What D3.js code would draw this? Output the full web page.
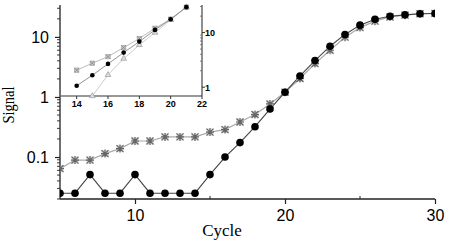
<!DOCTYPE html>
<html><head><meta charset="utf-8">
<script src="https://cdn.jsdelivr.net/npm/d3@7"></script>
<style>body{margin:0;background:#fff}svg{display:block}</style>
</head><body><svg id="c" width="450" height="243"></svg>
<script>
const cycles = [5,6,7,8,9,10,11,12,13,14,15,16,17,18,19,20,21,22,23,24,25,26,27,28,29,30];
const blackSeries = [0.025,0.025,0.051,0.025,0.025,0.051,0.025,0.025,0.025,0.025,0.051,0.1,0.174,0.32,0.63,1.2,2.24,4.04,7.0,11.0,15.7,19.7,22.1,23.3,24.3,24.6];
const graySeries = [0.064,0.089,0.089,0.114,0.138,0.185,0.185,0.216,0.216,0.216,0.26,0.286,0.383,0.51,0.765,1.2,2.03,3.6,6.0,9.9,14.3,18.3,21.5,23,24.3,24.6];
const xTicks = [10,20,30];
const xMinorTicks = [15,25];
const yTicks = [0.1,1,10];

const insetCycles = [14,15,16,17,18,19,20,21];
const insetCross = [2.05,2.75,3.63,5.31,7.77,12.0,17.6,29.2];
const insetDots = [1.06,1.66,2.67,4.3,6.84,11.2,17.6,29.2];
const insetTriCycles = [15,16,17,18,19,20,21];
const insetTri = [0.69,1.68,3.34,5.95,10.0,17.1,29.2];
const insetXTicks = [14,16,18,20,22];
const insetYTicks = [1,10];

const svg = d3.select('#c');
const x = d3.scaleLinear().domain([5,30]).range([60,435]);
const y = d3.scaleLog().domain([0.02,34]).range([199,5]);

svg.append('defs').append('clipPath').attr('id','clip')
  .append('rect').attr('x',60).attr('y',0).attr('width',375).attr('height',243);

// axes
const yAxis = d3.axisLeft(y).tickValues(yTicks).tickFormat(d=>d>=1?d3.format('d')(d):String(d)).tickSize(5).tickPadding(6);
const gy = svg.append('g').attr('transform','translate(60,0)').call(yAxis);
gy.select('.domain').attr('d','M0,5V199').attr('stroke','#222').attr('stroke-width',1.3);
gy.selectAll('text').attr('font-family','Liberation Sans, Arial, sans-serif').attr('font-size',16).attr('fill','#000');
gy.selectAll('line').attr('stroke','#222').attr('stroke-width',1.2);
const minorY = [];
[0.01,0.1,1,10].forEach(b=>{for(let k=2;k<=9;k++){const v=b*k; if(v>=0.02&&v<=34) minorY.push(v);}});
gy.selectAll('.minor').data(minorY).enter().append('line').attr('class','minor')
  .attr('x1',-3).attr('x2',0).attr('y1',d=>y(d)).attr('y2',d=>y(d)).attr('stroke','#222').attr('stroke-width',0.9);

const xAxis = d3.axisBottom(x).tickValues(xTicks).tickFormat(d3.format('d')).tickSize(5).tickPadding(6);
const gx = svg.append('g').attr('transform','translate(0,199)').call(xAxis);
gx.select('.domain').attr('d','M60,0H435').attr('stroke','#222').attr('stroke-width',1.3);
gx.selectAll('text').attr('font-family','Liberation Sans, Arial, sans-serif').attr('font-size',16).attr('fill','#000');
gx.selectAll('line').attr('stroke','#222').attr('stroke-width',1.2);
gx.selectAll('.minorx').data(xMinorTicks).enter().append('line')
  .attr('x1',d=>x(d)).attr('x2',d=>x(d)).attr('y1',-3).attr('y2',0).attr('stroke','#222').attr('stroke-width',1);

// labels
svg.append('text').attr('x',222).attr('y',236).attr('text-anchor','middle')
  .attr('font-family','Liberation Serif, Times New Roman, serif').attr('font-size',17).text('Cycle');
svg.append('text').attr('transform','translate(14,105) rotate(-90)').attr('text-anchor','middle')
  .attr('font-family','Liberation Serif, Times New Roman, serif').attr('font-size',16)
  .attr('textLength',37).attr('lengthAdjust','spacingAndGlyphs').text('Signal');

// main series
const plot = svg.append('g').attr('clip-path','url(#clip)');
const grayData = cycles.map((c,i)=>[c,graySeries[i]]);
const blackData = cycles.map((c,i)=>[c,blackSeries[i]]);
const line = d3.line().x(d=>x(d[0])).y(d=>y(d[1]));
plot.append('path').datum(grayData).attr('d',line).attr('fill','none').attr('stroke','#aaa').attr('stroke-width',1.2);
plot.append('path').datum(blackData).attr('d',line).attr('fill','none').attr('stroke','#444').attr('stroke-width',1.1);
const star = plot.selectAll('.star').data(grayData).enter().append('g')
  .attr('transform',d=>`translate(${x(d[0])},${y(d[1])})`);
star.append('rect').attr('x',-3.5).attr('y',-3.5).attr('width',7).attr('height',7).attr('fill','#bbb').attr('opacity',0.6);
star.append('path').attr('d','M-4,0H4M0,-4V4M-3.5,-3.5L3.5,3.5M-3.5,3.5L3.5,-3.5').attr('stroke','#666').attr('stroke-width',1.2);
plot.selectAll('.dot').data(blackData).enter().append('circle')
  .attr('cx',d=>x(d[0])).attr('cy',d=>y(d[1])).attr('r',3.8).attr('fill','#000');

// inset
const ix = d3.scaleLinear().domain([13,22]).range([61,202]);
const iy = d3.scaleLog().domain([0.69,32]).range([96,5]);
const ins = svg.append('g');
ins.append('line').attr('x1',61).attr('x2',202).attr('y1',96).attr('y2',96).attr('stroke','#333').attr('stroke-width',1.1);
ins.append('line').attr('x1',202).attr('x2',202).attr('y1',5).attr('y2',96).attr('stroke','#333').attr('stroke-width',1.1);
ins.selectAll('.ixt').data(insetXTicks).enter().append('line')
  .attr('x1',d=>ix(d)).attr('x2',d=>ix(d)).attr('y1',96).attr('y2',99).attr('stroke','#333');
ins.selectAll('.ixl').data(insetXTicks).enter().append('text')
  .attr('x',d=>ix(d)).attr('y',106.5).attr('text-anchor','middle')
  .attr('font-family','Liberation Sans, Arial, sans-serif').attr('font-weight','bold').attr('font-size',9).text(d=>d);
ins.selectAll('.iyt').data(insetYTicks).enter().append('line')
  .attr('x1',202).attr('x2',205).attr('y1',d=>iy(d)).attr('y2',d=>iy(d)).attr('stroke','#333');
ins.selectAll('.iyl').data(insetYTicks).enter().append('text')
  .attr('x',205).attr('y',d=>iy(d)+3.5)
  .attr('font-family','Liberation Sans, Arial, sans-serif').attr('font-weight','bold').attr('font-size',9).text(d=>d);
const iminor=[];
[1,10].forEach(b=>{for(let k=2;k<=9;k++){const v=b*k; if(v<=32) iminor.push(v);}});
ins.selectAll('.iym').data(iminor).enter().append('line')
  .attr('x1',200).attr('x2',202).attr('y1',d=>iy(d)).attr('y2',d=>iy(d)).attr('stroke','#666').attr('stroke-width',0.8);

const iline = d3.line().x(d=>ix(d[0])).y(d=>iy(d[1]));
const crossD = insetCycles.map((c,i)=>[c,insetCross[i]]);
const dotD = insetCycles.map((c,i)=>[c,insetDots[i]]);
const triD = insetTriCycles.map((c,i)=>[c,insetTri[i]]);
ins.append('path').datum(triD).attr('d',iline).attr('fill','none').attr('stroke','#ccc').attr('stroke-width',1);
ins.append('path').datum(crossD).attr('d',iline).attr('fill','none').attr('stroke','#bbb').attr('stroke-width',1);
ins.append('path').datum(dotD).attr('d',iline).attr('fill','none').attr('stroke','#888').attr('stroke-width',0.9);
ins.selectAll('.tri').data(triD).enter().append('path')
  .attr('transform',d=>`translate(${ix(d[0])},${iy(d[1])})`)
  .attr('d',d3.symbol(d3.symbolTriangle,14)).attr('fill','#ddd').attr('stroke','#999').attr('stroke-width',0.7);
const cr = ins.selectAll('.cr').data(crossD).enter().append('g')
  .attr('transform',d=>`translate(${ix(d[0])},${iy(d[1])})`);
cr.append('rect').attr('x',-2.2).attr('y',-2.2).attr('width',4.4).attr('height',4.4).attr('fill','#ccc').attr('stroke','#999').attr('stroke-width',0.6);
cr.append('path').attr('d','M-2,-2L2,2M-2,2L2,-2').attr('stroke','#777').attr('stroke-width',0.7);
ins.selectAll('.idot').data(dotD).enter().append('circle')
  .attr('cx',d=>ix(d[0])).attr('cy',d=>iy(d[1])).attr('r',2.3).attr('fill','#000');
</script></body></html>
